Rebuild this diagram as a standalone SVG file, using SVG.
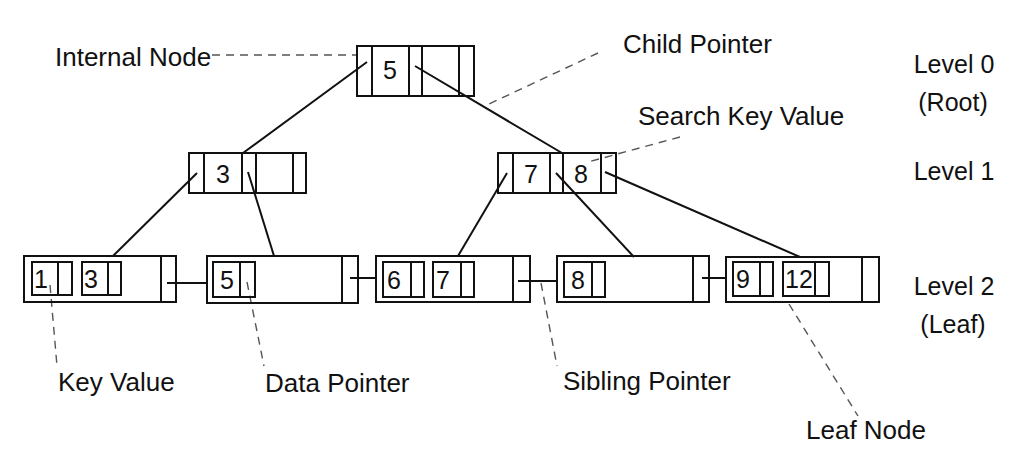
<svg xmlns="http://www.w3.org/2000/svg" width="1026" height="462" viewBox="0 0 1026 462">
<style>
.box{fill:none;stroke:#111;stroke-width:2}
.ln{stroke:#111;stroke-width:2;fill:none}
.dash{stroke:#555;stroke-width:1.4;stroke-dasharray:8 6;fill:none}
.lbl{font-family:"Liberation Sans",Arial,sans-serif;font-size:26px;fill:#111}
.dig{font-family:"Liberation Sans",Arial,sans-serif;font-size:25px;fill:#111;text-anchor:middle}
.lv{font-family:"Liberation Sans",Arial,sans-serif;font-size:25px;fill:#111;text-anchor:middle}
</style>
<rect width="1026" height="462" fill="#fff"/>
<g id="connectors">
<line class="ln" x1="367" y1="62" x2="243" y2="153"/>
<line class="ln" x1="415" y1="66" x2="562" y2="153"/>
<line class="ln" x1="197" y1="173" x2="113" y2="256"/>
<line class="ln" x1="248" y1="172" x2="274" y2="256"/>
<line class="ln" x1="507" y1="173" x2="458" y2="256"/>
<line class="ln" x1="556" y1="173" x2="634" y2="257"/>
<line class="ln" x1="605" y1="172" x2="800" y2="257"/>
<line class="ln" x1="167" y1="283" x2="207" y2="283"/>
<line class="ln" x1="350" y1="278" x2="376" y2="278"/>
<line class="ln" x1="518" y1="281" x2="557" y2="281"/>
<line class="ln" x1="702" y1="278" x2="726" y2="278"/>
<line class="dash" x1="212" y1="55" x2="356" y2="55"/>
<line class="dash" x1="598" y1="53" x2="489" y2="104"/>
<line class="dash" x1="680" y1="137" x2="588" y2="162"/>
<line class="dash" x1="50" y1="285" x2="57" y2="366"/>
<line class="dash" x1="247" y1="282" x2="264" y2="366"/>
<line class="dash" x1="541" y1="283" x2="557" y2="366"/>
<line class="dash" x1="789" y1="304" x2="858" y2="416"/>
</g>
<g id="root">
<rect class="box" x="357" y="46" width="117" height="50"/>
<line class="ln" x1="372" y1="46" x2="372" y2="96"/>
<line class="ln" x1="409" y1="46" x2="409" y2="96"/>
<line class="ln" x1="422" y1="46" x2="422" y2="96"/>
<line class="ln" x1="459" y1="46" x2="459" y2="96"/>
<text class="dig" x="390" y="79">5</text>
</g>
<g id="node3">
<rect class="box" x="189" y="153" width="117" height="40"/>
<line class="ln" x1="204" y1="153" x2="204" y2="193"/>
<line class="ln" x1="242" y1="153" x2="242" y2="193"/>
<line class="ln" x1="256" y1="153" x2="256" y2="193"/>
<line class="ln" x1="293" y1="153" x2="293" y2="193"/>
<text class="dig" x="223" y="183">3</text>
</g>
<g id="node78">
<rect class="box" x="498" y="153" width="118" height="40"/>
<line class="ln" x1="513" y1="153" x2="513" y2="193"/>
<line class="ln" x1="550" y1="153" x2="550" y2="193"/>
<line class="ln" x1="563" y1="153" x2="563" y2="193"/>
<line class="ln" x1="601" y1="153" x2="601" y2="193"/>
<text class="dig" x="531" y="183">7</text>
<text class="dig" x="581" y="183">8</text>
</g>
<g id="leaf1">
<rect class="box" x="24" y="256" width="152" height="46"/>
<line class="ln" x1="161" y1="256" x2="161" y2="302"/>
<rect class="box" x="32" y="262" width="40" height="33"/>
<line class="ln" x1="58" y1="262" x2="58" y2="295"/>
<rect class="box" x="82" y="262" width="39" height="33"/>
<line class="ln" x1="108" y1="262" x2="108" y2="295"/>
<text class="dig" x="41" y="288">1</text>
<text class="dig" x="91" y="288">3</text>
</g>
<g id="leaf2">
<rect class="box" x="207" y="256" width="151" height="47"/>
<line class="ln" x1="342" y1="256" x2="342" y2="303"/>
<rect class="box" x="213" y="262" width="42" height="35"/>
<line class="ln" x1="240" y1="262" x2="240" y2="297"/>
<text class="dig" x="227" y="289">5</text>
</g>
<g id="leaf3">
<rect class="box" x="376" y="256" width="154" height="46"/>
<line class="ln" x1="513" y1="256" x2="513" y2="302"/>
<rect class="box" x="383" y="262" width="41" height="35"/>
<line class="ln" x1="411" y1="262" x2="411" y2="297"/>
<rect class="box" x="433" y="262" width="41" height="35"/>
<line class="ln" x1="461" y1="262" x2="461" y2="297"/>
<text class="dig" x="394" y="289">6</text>
<text class="dig" x="443" y="289">7</text>
</g>
<g id="leaf4">
<rect class="box" x="557" y="256" width="152" height="46"/>
<line class="ln" x1="693" y1="256" x2="693" y2="302"/>
<rect class="box" x="564" y="262" width="41" height="35"/>
<line class="ln" x1="592" y1="262" x2="592" y2="297"/>
<text class="dig" x="578" y="289">8</text>
</g>
<g id="leaf5">
<rect class="box" x="726" y="257" width="153" height="45"/>
<line class="ln" x1="862" y1="257" x2="862" y2="302"/>
<rect class="box" x="733" y="262" width="40" height="34"/>
<line class="ln" x1="760" y1="262" x2="760" y2="296"/>
<rect class="box" x="783" y="262" width="46" height="34"/>
<line class="ln" x1="815" y1="262" x2="815" y2="296"/>
<text class="dig" x="743" y="288">9</text>
<text class="dig" x="799" y="288">12</text>
</g>
<g id="labels">
<text class="lbl" x="55" y="66">Internal Node</text>
<text class="lbl" x="623" y="53">Child Pointer</text>
<text class="lbl" x="638" y="125">Search Key Value</text>
<text class="lbl" x="58" y="391">Key Value</text>
<text class="lbl" x="265" y="392">Data Pointer</text>
<text class="lbl" x="563" y="390">Sibling Pointer</text>
<text class="lbl" x="806" y="439">Leaf Node</text>
<text class="lv" x="954" y="73">Level 0</text>
<text class="lv" x="953" y="111">(Root)</text>
<text class="lv" x="954" y="180">Level 1</text>
<text class="lv" x="954" y="295">Level 2</text>
<text class="lv" x="953" y="333">(Leaf)</text>
</g>
</svg>
